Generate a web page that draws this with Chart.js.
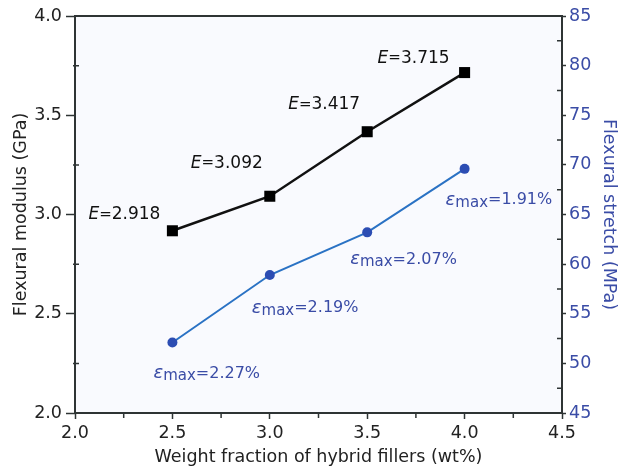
<!DOCTYPE html>
<html><head><meta charset="utf-8">
<script src="https://cdn.jsdelivr.net/npm/chart.js@4/dist/chart.umd.min.js"></script>
<style>html,body{margin:0;padding:0;background:#fff;}#wrap{width:637px;height:471px;}</style>
</head><body><div id="wrap"><canvas id="c" width="637" height="471"></canvas></div>
<script>
const fractions = [2.5, 3.0, 3.5, 4.0];
const modulus = [2.918, 3.092, 3.417, 3.715];
const stretch = [52.1, 58.9, 63.2, 69.6];
const strainMax = ['2.27%', '2.19%', '2.07%', '1.91%'];
const xTicks = [2.0, 2.5, 3.0, 3.5, 4.0, 4.5];
const leftTicks = [2.0, 2.5, 3.0, 3.5, 4.0];
const rightTicks = [45, 50, 55, 60, 65, 70, 75, 80, 85];

// label placement (pixel offsets from each point: left edge, vertical centre)
const eOffsets = [[-84,-16],[-79,-33],[-79,-27],[-87,-14]];
const sOffsets = [[-19,31],[-18,33],[-17,27],[-19,31]];

const FONT = '"DejaVu Sans", Verdana, sans-serif';
const AXIS = '#2e3434';
const BLUE_TXT = '#3a4ca6';
const TS = 17.5;

const framePlugin = {
  id: 'frame',
  beforeDraw(chart) {
    const {ctx, chartArea: a} = chart;
    ctx.save();
    ctx.fillStyle = '#f9fafe';
    ctx.fillRect(a.left, a.top, a.right - a.left, a.bottom - a.top);
    ctx.restore();
  },
  afterDraw(chart) {
    const {ctx, chartArea: a, scales} = chart;
    ctx.save();
    ctx.strokeStyle = AXIS;
    ctx.lineWidth = 2;
    ctx.strokeRect(a.left, a.top, a.right - a.left, a.bottom - a.top);
    ctx.lineWidth = 1.5;
    ctx.beginPath();
    for (let v = 2.25; v < 4.5; v += 0.5) {
      const x = scales.x.getPixelForValue(v);
      ctx.moveTo(x, a.bottom); ctx.lineTo(x, a.bottom + 5);
    }
    for (let v = 2.25; v < 4.0; v += 0.5) {
      const y = scales.y.getPixelForValue(v);
      ctx.moveTo(a.left - 2, y); ctx.lineTo(a.left + 4, y);
    }
    for (let v = 47.5; v < 85; v += 5) {
      const y = scales.y2.getPixelForValue(v);
      ctx.moveTo(a.right - 5, y); ctx.lineTo(a.right + 1, y);
    }
    ctx.stroke();
    ctx.restore();
  },
  afterDatasetsDraw(chart) {
    const {ctx, scales} = chart;
    ctx.save();
    ctx.textBaseline = 'middle';
    ctx.textAlign = 'left';
    fractions.forEach((f, i) => {
      const px = scales.x.getPixelForValue(f);
      const py = scales.y.getPixelForValue(modulus[i]);
      let x = px + eOffsets[i][0], y = py + eOffsets[i][1];
      ctx.fillStyle = '#111';
      ctx.font = 'italic 17px ' + FONT;
      ctx.fillText('E', x, y); x += ctx.measureText('E').width;
      ctx.font = '15px ' + FONT;
      ctx.fillText('=', x, y); x += ctx.measureText('=').width;
      ctx.font = '17px ' + FONT;
      ctx.fillText(modulus[i].toFixed(3), x, y);

      const qx = scales.x.getPixelForValue(f);
      const qy = scales.y2.getPixelForValue(stretch[i]);
      x = qx + sOffsets[i][0]; y = qy + sOffsets[i][1];
      ctx.fillStyle = BLUE_TXT;
      ctx.font = 'italic 18px ' + FONT;
      ctx.fillText('\u03b5', x, y); x += ctx.measureText('\u03b5').width;
      ctx.font = '15px ' + FONT;
      ctx.fillText('max', x, y + 3); x += ctx.measureText('max').width;
      ctx.font = '16px ' + FONT;
      ctx.fillText('=' + strainMax[i], x, y);
    });
    ctx.restore();
  }
};

new Chart(document.getElementById('c'), {
  type: 'scatter',
  data: {
    datasets: [
      {
        data: fractions.map((f, i) => ({x: f, y: modulus[i]})),
        yAxisID: 'y', showLine: true,
        borderColor: '#111', borderWidth: 2.5,
        pointStyle: 'rect', pointRadius: 7.8, pointBackgroundColor: '#000', pointBorderWidth: 0
      },
      {
        data: fractions.map((f, i) => ({x: f, y: stretch[i]})),
        yAxisID: 'y2', showLine: true,
        borderColor: '#2a72c4', borderWidth: 2,
        pointStyle: 'circle', pointRadius: 5, pointBackgroundColor: '#2c4db3', pointBorderWidth: 0
      }
    ]
  },
  options: {
    responsive: false, animation: false, devicePixelRatio: 1,
    layout: {padding: {top: 16, left: 0, right: 0, bottom: 0}},
    plugins: {legend: {display: false}, tooltip: {enabled: false}},
    scales: {
      x: {
        type: 'linear', min: 2.0, max: 4.5,
        afterBuildTicks: s => { s.ticks = xTicks.map(v => ({value: v})); },
        afterFit: s => { s.height = 58; },
        grid: {drawOnChartArea: false, tickLength: 6, tickWidth: 1.5, tickColor: AXIS},
        border: {display: false},
        ticks: {color: '#222', font: {family: FONT, size: TS}, padding: 4, maxRotation: 0,
                callback: v => v.toFixed(1)},
        title: {display: true, text: 'Weight fraction of hybrid fillers (wt%)', color: '#222',
                font: {family: FONT, size: TS}, padding: {top: 0, bottom: 3}}
      },
      y: {
        type: 'linear', position: 'left', min: 2.0, max: 4.0,
        afterBuildTicks: s => { s.ticks = leftTicks.map(v => ({value: v})); },
        afterFit: s => { s.width = 75; },
        grid: {drawOnChartArea: false, tickLength: 9, tickWidth: 1.5, tickColor: AXIS},
        border: {display: false},
        ticks: {color: '#222', font: {family: FONT, size: TS}, padding: 4,
                callback: v => v.toFixed(1)},
        title: {display: true, text: 'Flexural modulus (GPa)', color: '#222',
                font: {family: FONT, size: TS}, padding: {top: 11, bottom: 0}}
      },
      y2: {
        type: 'linear', position: 'right', min: 45, max: 85,
        afterBuildTicks: s => { s.ticks = rightTicks.map(v => ({value: v})); },
        afterFit: s => { s.width = 75; },
        grid: {drawOnChartArea: false, tickLength: 4, tickWidth: 1.5, tickColor: AXIS},
        border: {display: false},
        ticks: {color: BLUE_TXT, font: {family: FONT, size: TS}, padding: 3},
        title: {display: true, text: 'Flexural stretch (MPa)', color: BLUE_TXT,
                font: {family: FONT, size: TS}, padding: {top: 18, bottom: 0}}
      }
    }
  },
  plugins: [framePlugin]
});
</script></body></html>
